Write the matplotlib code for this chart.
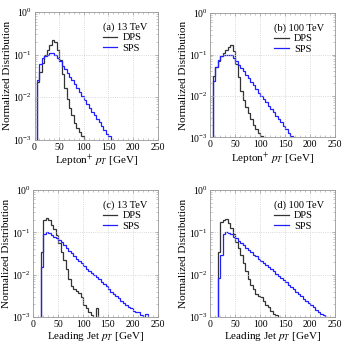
import matplotlib.pyplot as plt
import numpy as np
from matplotlib.ticker import MultipleLocator, LogLocator, NullFormatter

plt.rcParams['font.family'] = ['Liberation Serif', 'DejaVu Serif']
plt.rcParams['mathtext.fontset'] = 'stix'

# lepton+ pT, 5 GeV bins starting at 5 GeV
lep_edges_13_dps = np.arange(5, 110, 5)
lep_13_dps = [0.023, 0.04, 0.065, 0.1, 0.13, 0.17, 0.22, 0.2, 0.13, 0.075, 0.035, 0.016,
              0.009, 0.0055, 0.0038, 0.0025, 0.0019, 0.0015, 0.0012, 0.001, 0.0009]
lep_edges_13_sps = np.arange(5, 165, 5)
lep_13_sps = [0.025, 0.06, 0.085, 0.095, 0.1, 0.11, 0.11, 0.1, 0.085, 0.07, 0.055, 0.045,
              0.037, 0.03, 0.025, 0.02, 0.016, 0.013, 0.0105, 0.0085, 0.007, 0.0057, 0.0046,
              0.0038, 0.0031, 0.0026, 0.0021, 0.0017, 0.0014, 0.0012, 0.001]

lep_edges_100_dps = np.arange(5, 110, 5)
lep_100_dps = [0.03, 0.05, 0.07, 0.09, 0.11, 0.13, 0.15, 0.17, 0.12, 0.06, 0.028, 0.013,
               0.008, 0.0055, 0.0038, 0.0027, 0.002, 0.0016, 0.0013, 0.0011, 0.0009]
lep_edges_100_sps = np.arange(5, 170, 5)
lep_100_sps = [0.023, 0.05, 0.075, 0.09, 0.095, 0.1, 0.1, 0.095, 0.082, 0.068, 0.057, 0.047,
               0.039, 0.032, 0.027, 0.022, 0.018, 0.015, 0.012, 0.01, 0.0085, 0.007, 0.0058,
               0.0048, 0.004, 0.0033, 0.0028, 0.0023, 0.0019, 0.0016, 0.0013, 0.0011, 0.0009]

# leading jet pT, 5 GeV bins starting at 15 GeV
jet_edges_13_dps = np.arange(15, 135, 5)
jet_13_dps = [0.035, 0.2, 0.22, 0.2, 0.15, 0.12, 0.085, 0.055, 0.035, 0.022, 0.014, 0.008,
              0.0055, 0.0047, 0.0042, 0.0037, 0.003, 0.0019, 0.0016, 0.0013, 0.0011, 0.0009,
              0.0016]
jet_edges_13_sps = np.arange(15, 235, 5)
jet_13_sps = [0.015, 0.09, 0.1, 0.095, 0.085, 0.078, 0.072, 0.065, 0.058, 0.05, 0.042,
              0.037, 0.032, 0.028, 0.024, 0.021, 0.019, 0.016, 0.014, 0.0125, 0.011, 0.0098,
              0.0088, 0.0078, 0.0068, 0.006, 0.0053, 0.0046, 0.004, 0.0036, 0.0032, 0.0028,
              0.0024, 0.0021, 0.0019, 0.0017, 0.0016, 0.0014, 0.0013, 0.0013, 0.0011, 0.0009,
              0.0012]

jet_edges_100_dps = np.arange(15, 145, 5)
jet_100_dps = [0.035, 0.18, 0.2, 0.21, 0.17, 0.13, 0.09, 0.06, 0.042, 0.029, 0.019, 0.012,
               0.008, 0.0057, 0.0045, 0.0036, 0.0032, 0.003, 0.0024, 0.0019, 0.0017, 0.0014,
               0.0012, 0.0011, 0.0009]
jet_edges_100_sps = np.arange(15, 245, 5)
jet_100_sps = [0.0085, 0.03, 0.09, 0.1, 0.098, 0.09, 0.08, 0.072, 0.064, 0.057, 0.05,
               0.044, 0.039, 0.034, 0.03, 0.027, 0.024, 0.021, 0.019, 0.017, 0.015, 0.0135,
               0.012, 0.0105, 0.0093, 0.0083, 0.0074, 0.0066, 0.0058, 0.0051, 0.0045, 0.004,
               0.0035, 0.0031, 0.0027, 0.0024, 0.0021, 0.0019, 0.0017, 0.0015, 0.0013,
               0.0012, 0.0011, 0.001, 0.0009]

panels = [
    ("(a) 13 TeV", r"Lepton$^{+}$ $p_T$ [GeV]", lep_edges_13_dps, lep_13_dps, lep_edges_13_sps, lep_13_sps),
    ("(b) 100 TeV", r"Lepton$^{+}$ $p_T$ [GeV]", lep_edges_100_dps, lep_100_dps, lep_edges_100_sps, lep_100_sps),
    ("(c) 13 TeV", r"Leading Jet $p_T$ [GeV]", jet_edges_13_dps, jet_13_dps, jet_edges_13_sps, jet_13_sps),
    ("(d) 100 TeV", r"Leading Jet $p_T$ [GeV]", jet_edges_100_dps, jet_100_dps, jet_edges_100_sps, jet_100_sps),
]

boxes = [[0.10, 0.595, 0.357, 0.37], [0.61, 0.602, 0.361, 0.36],
         [0.097, 0.081, 0.36, 0.368], [0.61, 0.081, 0.361, 0.368]]

fig = plt.figure(figsize=(3.45, 3.45), dpi=100)
for box, (title, xlab, e1, v1, e2, v2) in zip(boxes, panels):
    ax = fig.add_axes(box)
    ax.stairs(v1, np.append(e1, e1[-1] + 5)[:len(v1) + 1], color="#333333", lw=0.9,
              baseline=1e-5, label="DPS")
    ax.stairs(v2, np.append(e2, e2[-1] + 5)[:len(v2) + 1], color="#2020ff", lw=0.9,
              baseline=1e-5, label="SPS")
    ax.set_yscale("log")
    ax.set_xlim(0, 250)
    ax.set_ylim(1e-3, 1)
    ax.xaxis.set_major_locator(MultipleLocator(50))
    ax.xaxis.set_minor_locator(MultipleLocator(10))
    ax.yaxis.set_minor_locator(LogLocator(subs=np.arange(2, 10)))
    ax.yaxis.set_minor_formatter(NullFormatter())
    ax.grid(True, which="major", color="#cccccc", ls=":", lw=0.6)
    ax.tick_params(which="both", direction="in", top=True, right=True, color="#999999",
                   labelsize=7, pad=2)
    ax.tick_params(which="major", length=2.5, width=0.5)
    ax.tick_params(which="minor", length=1.3, width=0.4)
    for s in ax.spines.values():
        s.set_color("#999999")
        s.set_linewidth(0.6)
    ax.set_xlabel(xlab, fontsize=8, labelpad=1)
    ax.set_ylabel("Normalized Distribution", fontsize=8, labelpad=0.5)
    leg = ax.legend(title=title, loc="upper right", frameon=False, fontsize=7.5,
                    title_fontsize=7.5, handlelength=1.4, handletextpad=0.5,
                    labelspacing=0.1, borderaxespad=0.6)
    leg._legend_box.align = "left"

fig.savefig("out.png", dpi=100)
